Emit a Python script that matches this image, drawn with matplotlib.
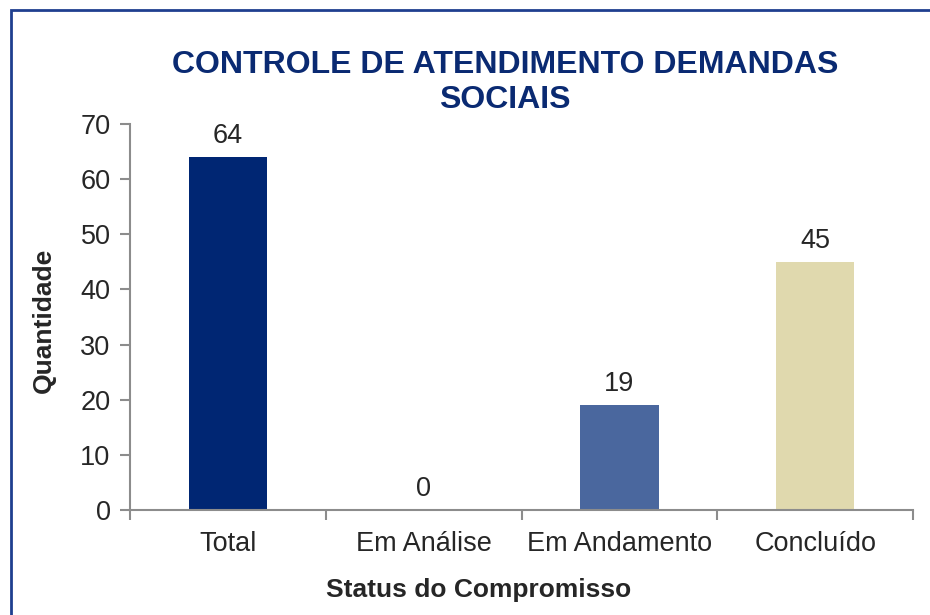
import matplotlib
matplotlib.use('Agg')
import matplotlib.pyplot as plt
from matplotlib.patches import Rectangle

categories = ['Total', 'Em Análise', 'Em Andamento', 'Concluído']
values = [64, 0, 19, 45]
bar_colors = ['#002673', '#4a679e', '#4a679e', '#e0d9ae']
yticks = [0, 10, 20, 30, 40, 50, 60, 70]

plt.rcParams['font.family'] = ['Liberation Sans', 'DejaVu Sans']

W, H = 930, 615
fig = plt.figure(figsize=(9.3, 6.15), dpi=100)
ax = fig.add_axes([130 / W, 1 - 510 / H, (913 - 130) / W, (510 - 124) / H])

pos = list(range(len(categories)))
bars = ax.bar(pos, values, width=0.4, color=bar_colors)
ax.bar_label(bars, labels=[str(v) for v in values], padding=6,
             fontsize=19.5, color='#262626')

gray = '#8c8c8c'
ax.set_xlim(-0.5, len(categories) - 0.5)
ax.set_ylim(0, 70)
ax.set_yticks(yticks)
ax.set_xticks([p - 0.5 for p in pos] + [len(categories) - 0.5])
ax.set_xticklabels([])
ax.set_xticks(pos, minor=True)
ax.set_xticklabels(categories, minor=True)
ax.tick_params(axis='x', which='minor', length=0, pad=15, labelsize=19.5,
               labelcolor='#262626')
ax.tick_params(axis='x', which='major', length=7, width=1.5, color=gray)
ax.tick_params(axis='y', length=7, width=1.5, color=gray, labelsize=19.5,
               labelcolor='#262626', pad=7)
for s in ['top', 'right']:
    ax.spines[s].set_visible(False)
for s in ['left', 'bottom']:
    ax.spines[s].set_color(gray)
    ax.spines[s].set_linewidth(1.5)

fig.text(505 / W, 1 - 82.5 / H, 'CONTROLE DE ATENDIMENTO DEMANDAS\nSOCIAIS',
         ha='center', va='center', fontsize=23, fontweight='bold',
         color='#0a2a72', linespacing=1.2)
fig.text(479 / W, 1 - 590 / H, 'Status do Compromisso', ha='center',
         va='center', fontsize=19, fontweight='bold', color='#262626')
fig.text(44 / W, 1 - 320 / H, 'Quantidade', ha='center', va='center',
         rotation=90, fontsize=19, fontweight='bold', color='#262626')

fig.patches.append(Rectangle((11 / W, -0.1), 1.2, 1.1 - 10 / H,
                             transform=fig.transFigure, fill=False,
                             edgecolor='#1f3f8f', linewidth=2))

fig.savefig('out.png', dpi=100)
